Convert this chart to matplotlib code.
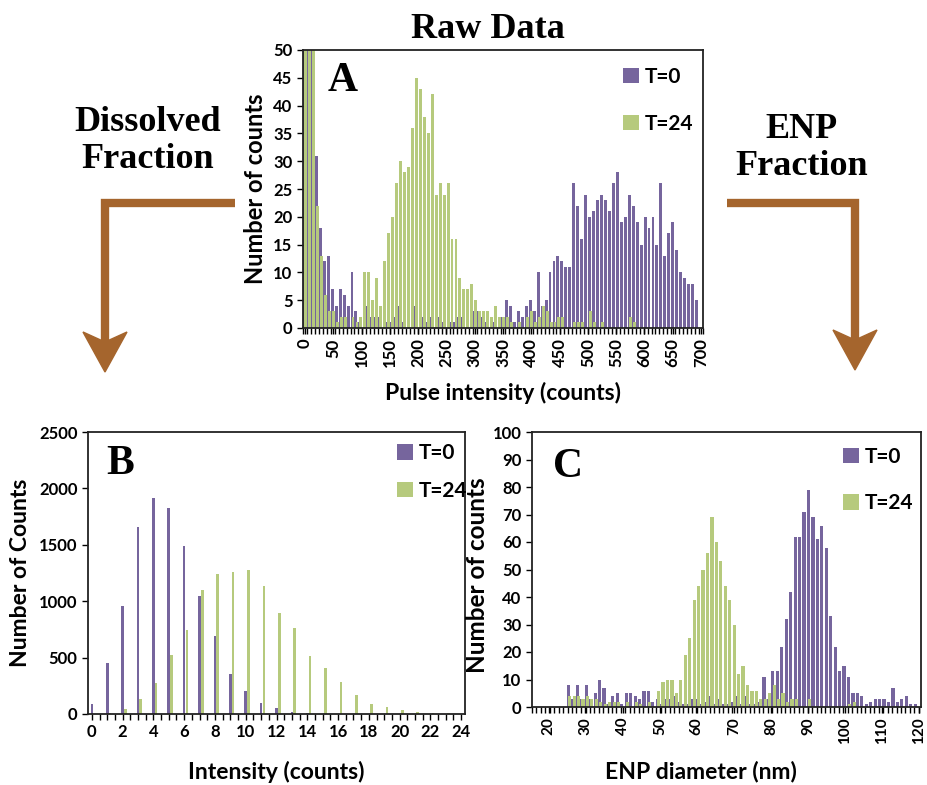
import numpy as np
import matplotlib
matplotlib.use('Agg')
import matplotlib.pyplot as plt
from matplotlib.lines import Line2D
from matplotlib.patches import Polygon
from matplotlib.ticker import MultipleLocator, FixedLocator

# Panel A: raw pulse intensity histogram (bins of 7 counts)
a_bins = np.arange(0, 700, 7)
a_t0 = [120, 90, 60, 31, 18, 12, 13, 7, 4, 7,
        6, 4, 10, 3, 1, 0, 4, 2, 2, 2,
        0, 1, 1, 2, 4, 1, 0, 0, 4, 0,
        2, 1, 2, 0, 2, 1, 0, 1, 1, 2,
        2, 0, 0, 3, 3, 2, 1, 0, 1, 0,
        2, 5, 4, 1, 3, 2, 4, 5, 3, 10,
        4, 5, 10, 12, 13, 12, 11, 11, 26, 22,
        16, 24, 20, 21, 23, 24, 23, 21, 26, 28,
        19, 20, 24, 22, 19, 15, 20, 18, 20, 15,
        26, 13, 17, 19, 14, 10, 9, 8, 8, 5]
a_t24 = [150, 100, 60, 22, 13, 6, 3, 3, 1, 2,
         2, 0, 2, 1, 2, 10, 10, 5, 9, 4,
         12, 17, 20, 26, 30, 28, 29, 36, 45, 43,
         38, 35, 42, 24, 26, 24, 26, 16, 16, 9,
         7, 7, 8, 5, 3, 3, 3, 2, 4, 2,
         2, 2, 1, 0, 1, 0, 2, 3, 1, 2,
         4, 3, 1, 1, 2, 2, 0, 0, 1, 1,
         1, 0, 3, 1, 0, 1, 0, 0, 0, 0,
         0, 0, 2, 1, 0, 0, 0, 0, 0, 0,
         0, 0, 0, 0, 0, 0, 0, 0, 0, 0]

# Panel B: dissolved fraction
b_bins = np.arange(0, 24)
b_t0 = [90, 450, 960, 1655, 1915, 1825, 1490, 1050, 695, 355,
        200, 100, 53, 18, 9, 4, 2, 0, 0, 0, 0, 0, 0, 0]
b_t24 = [0, 12, 44, 133, 278, 524, 749, 1100, 1243, 1257,
         1278, 1133, 893, 763, 512, 405, 284, 166, 86, 59,
         35, 18, 12, 6]

# Panel C: ENP fraction
c_bins = 25.5 + 1.2 * np.arange(79)
c_t0 = [8, 3, 8, 3, 8, 3, 5, 10, 7, 1,
        4, 5, 1, 5, 5, 4, 3, 6, 6, 2,
        3, 1, 3, 3, 4, 2, 1, 1, 3, 3,
        1, 2, 4, 1, 3, 1, 1, 2, 4, 1,
        4, 1, 1, 2, 11, 3, 13, 13, 22, 32,
        42, 62, 62, 71, 79, 69, 61, 66, 58, 33,
        22, 13, 15, 11, 5, 5, 4, 1, 2, 3,
        3, 3, 2, 7, 2, 3, 4, 1, 1]
c_t24 = [4, 4, 4, 3, 4, 3, 3, 2, 1, 2,
         2, 2, 0, 2, 0, 2, 1, 0, 2, 0,
         6, 9, 10, 10, 5, 10, 19, 25, 39, 44,
         50, 56, 69, 60, 53, 44, 39, 30, 12, 15,
         8, 6, 6, 3, 3, 5, 8, 3, 5, 2,
         3, 3, 0, 0, 3, 0, 0, 0, 0, 0,
         0, 0, 0, 1, 2, 0, 0, 0, 0, 0,
         0, 0, 0, 0, 0, 0, 0, 0, 0]

PURPLE = '#76659d'
GREEN = '#b6ca7d'
BROWN = '#a5652d'
SANS = 'Lato'
SERIF = 'Liberation Serif'

plt.rcParams['font.family'] = SANS
plt.rcParams['font.weight'] = 'bold'

fig = plt.figure(figsize=(9.27, 7.85), dpi=100)
W, H = 927, 785


def px_axes(left, top, right, bottom):
    return fig.add_axes([left / W, 1 - bottom / H, (right - left) / W, (bottom - top) / H])


def style(ax, letter, lx, ly, leg_anchor, leg_space):
    for s in ax.spines.values():
        s.set_linewidth(1.3)
        s.set_color('#222222')
    ax.tick_params(direction='out', length=4, width=1, labelsize=12)
    ax.tick_params(which='minor', direction='out', length=4, width=1)
    for lab in ax.get_xticklabels() + ax.get_yticklabels():
        lab.set_fontweight('bold')
    ax.text(lx, ly, letter, transform=ax.transAxes, ha='center', va='center',
            family=SERIF, fontweight='bold', fontsize=30)
    ax.legend(loc='upper left', bbox_to_anchor=leg_anchor, frameon=False,
              handlelength=0.75, handleheight=0.75, handletextpad=0.3,
              labelspacing=leg_space, borderpad=0, borderaxespad=0,
              prop={'family': SANS, 'weight': 'bold', 'size': 15})


# ---- Panel A
axA = px_axes(303, 50, 703, 328)
axA.bar(a_bins - 0.9, a_t0, width=5.2, color=PURPLE, label='T=0')
axA.bar(a_bins + 0.9, a_t24, width=5.2, color=GREEN, label='T=24')
axA.set_xlim(-3.5, 703.5)
axA.set_ylim(0, 50)
axA.yaxis.set_major_locator(MultipleLocator(5))
axA.xaxis.set_major_locator(MultipleLocator(50))
axA.xaxis.set_minor_locator(FixedLocator(np.arange(-3.5, 704, 7)))
axA.tick_params(axis='x', labelrotation=90)
axA.set_xlabel('Pulse intensity (counts)', fontsize=16.5, fontweight='bold')
axA.xaxis.set_label_coords(0.5, -0.195)
axA.xaxis.label.set_va('top')
axA.set_ylabel('Number of counts', fontsize=17, fontweight='bold')
axA.yaxis.set_label_coords(-0.09, 0.5)
style(axA, 'A', 0.1, 0.89, (0.8, 0.94), 1.3)

# ---- Panel B
axB = px_axes(88, 432, 465, 714)
axB.bar(b_bins, b_t0, width=0.17, color=PURPLE, label='T=0')
axB.bar(b_bins + 0.18, b_t24, width=0.17, color=GREEN, label='T=24')
axB.set_xlim(-0.25, 24.25)
axB.set_ylim(0, 2500)
axB.yaxis.set_major_locator(MultipleLocator(500))
axB.xaxis.set_major_locator(MultipleLocator(2))
axB.xaxis.set_minor_locator(MultipleLocator(0.5))
axB.set_xlabel('Intensity (counts)', fontsize=16.5, fontweight='bold')
axB.xaxis.set_label_coords(0.5, -0.165)
axB.xaxis.label.set_va('top')
axB.set_ylabel('Number of Counts', fontsize=16.5, fontweight='bold')
axB.yaxis.set_label_coords(-0.15, 0.5)
style(axB, 'B', 0.085, 0.885, (0.82, 0.96), 0.85)

# ---- Panel C
axC = px_axes(532, 432, 921, 707)
axC.bar(c_bins - 0.17, c_t0, width=0.85, color=PURPLE, label='T=0')
axC.bar(c_bins + 0.17, c_t24, width=0.85, color=GREEN, label='T=24')
axC.set_xlim(15.5, 120.5)
axC.set_ylim(0, 100)
axC.yaxis.set_major_locator(MultipleLocator(10))
axC.xaxis.set_major_locator(MultipleLocator(10))
axC.xaxis.set_minor_locator(FixedLocator(np.arange(15.5, 121, 1.2)))
axC.set_xlabel('ENP diameter (nm)', fontsize=16.5, fontweight='bold')
axC.xaxis.set_label_coords(0.435, -0.195)
axC.xaxis.label.set_va('top')
axC.set_ylabel('Number of counts', fontsize=17.5, fontweight='bold')
axC.yaxis.set_label_coords(-0.11, 0.48)
style(axC, 'C', 0.093, 0.872, (0.8, 0.945), 1.25)
axC.tick_params(axis='x', labelrotation=90, labelsize=11)

# ---- titles
fig.text(488 / W, 1 - 29 / H, 'Raw Data', ha='center', va='center',
         family=SERIF, fontweight='bold', fontsize=26)
fig.text(148 / W, 1 - 141 / H, 'Dissolved\nFraction', ha='center', va='center',
         family=SERIF, fontweight='bold', fontsize=26, linespacing=1.15)
fig.text(802 / W, 1 - 148 / H, 'ENP\nFraction', ha='center', va='center',
         family=SERIF, fontweight='bold', fontsize=26, linespacing=1.15)


# ---- brown elbow arrows
def elbow(x0, x1, y0, y1):
    fig.add_artist(Line2D([x0 / W, x1 / W, x1 / W], [1 - y0 / H, 1 - y0 / H, 1 - y1 / H],
                          transform=fig.transFigure, color=BROWN, lw=6,
                          solid_joinstyle='miter', solid_capstyle='butt'))
    head = [(x1, y1 + 30), (x1 - 22, y1 - 10), (x1, y1), (x1 + 22, y1 - 10)]
    fig.add_artist(Polygon([(x / W, 1 - y / H) for x, y in head], closed=True,
                           transform=fig.transFigure, color=BROWN))


elbow(235, 105, 203, 342)
elbow(727, 855, 203, 340)

fig.savefig('out.png', dpi=100)
